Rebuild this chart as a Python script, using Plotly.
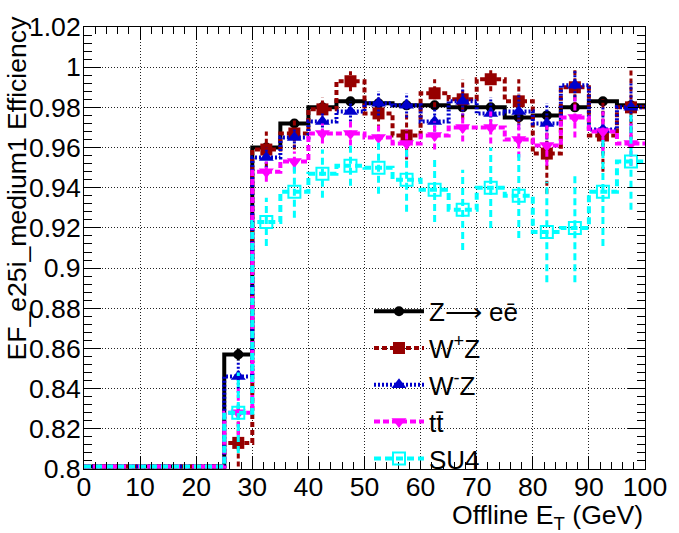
import plotly.graph_objects as go

# ---------------- data ----------------
bin_edges = [0, 5, 10, 15, 20, 25, 30, 35, 40, 45, 50, 55, 60, 65, 70, 75, 80, 85, 90, 95, 100]

series_names = ["Z\u27f6 e\u0113", "W<sup>+</sup>Z", "W<sup>-</sup>Z", "tt\u0304", "SU4"]

eff_zee = [0, 0, 0, 0, 0, 0.857, 0.960, 0.972, 0.980, 0.983, 0.982, 0.981, 0.981, 0.980, 0.980,
           0.975, 0.976, 0.980, 0.983, 0.981]
err_zee = [0, 0, 0, 0, 0, 0.003, 0.002, 0.002, 0.001, 0.001, 0.001, 0.001, 0.001, 0.001, 0.001,
           0.002, 0.002, 0.002, 0.002, 0.002]

eff_wpz = [0, 0, 0, 0, 0, 0.813, 0.959, 0.967, 0.979, 0.993, 0.977, 0.966, 0.987, 0.984, 0.994,
           0.983, 0.957, 0.990, 0.966, 0.980]
err_wpz = [0, 0, 0, 0, 0, 0.020, 0.009, 0.008, 0.006, 0.005, 0.008, 0.012, 0.007, 0.010, 0.006,
           0.011, 0.020, 0.010, 0.018, 0.020]

eff_wmz = [0, 0, 0, 0, 0, 0.846, 0.955, 0.965, 0.973, 0.978, 0.982, 0.981, 0.973, 0.983, 0.977,
           0.978, 0.972, 0.991, 0.969, 0.980]
err_wmz = [0, 0, 0, 0, 0, 0.008, 0.005, 0.005, 0.005, 0.005, 0.006, 0.006, 0.007, 0.007, 0.008,
           0.009, 0.010, 0.008, 0.012, 0.013]

eff_tt = [0, 0, 0, 0, 0, 0.828, 0.948, 0.953, 0.967, 0.967, 0.965, 0.962, 0.966, 0.970, 0.970,
          0.964, 0.961, 0.975, 0.968, 0.962]
err_tt = [0, 0, 0, 0, 0, 0.012, 0.005, 0.005, 0.005, 0.006, 0.006, 0.007, 0.007, 0.007, 0.008,
          0.009, 0.010, 0.010, 0.010, 0.011]

eff_su4 = [0, 0, 0, 0, 0, 0.828, 0.923, 0.938, 0.947, 0.951, 0.950, 0.944, 0.939, 0.929, 0.940,
           0.936, 0.918, 0.920, 0.938, 0.953]
err_su4 = [0, 0, 0, 0, 0, 0.020, 0.012, 0.013, 0.012, 0.010, 0.013, 0.016, 0.016, 0.020, 0.020,
           0.021, 0.025, 0.027, 0.027, 0.024]

x_tick_vals = [0, 10, 20, 30, 40, 50, 60, 70, 80, 90, 100]
x_tick_text = ["0", "10", "20", "30", "40", "50", "60", "70", "80", "90", "100"]
y_tick_vals = [0.80, 0.82, 0.84, 0.86, 0.88, 0.90, 0.92, 0.94, 0.96, 0.98, 1.00, 1.02]
y_tick_text = ["0.8", "0.82", "0.84", "0.86", "0.88", "0.9", "0.92", "0.94", "0.96", "0.98", "1", "1.02"]

# ---------------- style ----------------
YMIN, YMAX = 0.8, 1.02
FLOOR = 0.8012
FONT = "Liberation Sans, Arial, Helvetica, sans-serif"

styles = [
    dict(color="black", dash="solid", width=4, symbol="circle", size=10, mline=0),
    dict(color="#960000", dash="5px,3px", width=4, symbol="square", size=12, mline=0),
    dict(color="#0000cc", dash="2px,2px", width=4, symbol="triangle-up", size=13, mline=0),
    dict(color="#ff00ff", dash="6px,3px", width=4, symbol="triangle-down", size=13, mline=0),
    dict(color="#00ffff", dash="7px,4px", width=4, symbol="square-open", size=12, mline=2),
]
effs = [eff_zee, eff_wpz, eff_wmz, eff_tt, eff_su4]
errs = [err_zee, err_wpz, err_wmz, err_tt, err_su4]

centers = [(bin_edges[i] + bin_edges[i + 1]) / 2 for i in range(len(bin_edges) - 1)]

fig = go.Figure()

for name, eff, err, st in zip(series_names, effs, errs, styles):
    # histogram step line
    ys = [max(v, FLOOR) for v in eff] + [max(eff[-1], FLOOR)]
    fig.add_trace(go.Scatter(
        x=bin_edges, y=ys, mode="lines", line_shape="hv",
        line=dict(color=st["color"], width=st["width"], dash=st["dash"]),
        showlegend=False, hoverinfo="skip"))
    # vertical error bars
    ex, ey = [], []
    for c, v, e in zip(centers, eff, err):
        if v <= 0:
            continue
        ex += [c, c, None]
        ey += [max(v - e, FLOOR), min(v + e, 1.0), None]
    fig.add_trace(go.Scatter(
        x=ex, y=ey, mode="lines",
        line=dict(color=st["color"], width=st["width"] - 1, dash=st["dash"]),
        showlegend=False, hoverinfo="skip"))
    # markers
    mx = [c for c, v in zip(centers, eff) if v > 0]
    my = [v for v in eff if v > 0]
    fig.add_trace(go.Scatter(
        x=mx, y=my, mode="markers",
        marker=dict(color=st["color"], symbol=st["symbol"], size=st["size"],
                    line=dict(color=st["color"], width=st["mline"])),
        showlegend=False))

# legend-only entries
for name, st in zip(series_names, styles):
    fig.add_trace(go.Scatter(
        x=[None], y=[None], mode="lines+markers", name=name,
        line=dict(color=st["color"], width=st["width"], dash=st["dash"]),
        marker=dict(color=st["color"], symbol=st["symbol"], size=st["size"],
                    line=dict(color=st["color"], width=st["mline"]))))

axis_common = dict(
    showline=True, linecolor="black", linewidth=1, mirror="ticks",
    ticks="inside", tickcolor="black", tickwidth=1,
    showgrid=True, gridcolor="#222222", gridwidth=1, griddash="1px,2px",
    zeroline=False, tickfont=dict(family=FONT, size=26.6, color="black"),
)

fig.update_xaxes(
    range=[0, 100], tickmode="array", tickvals=x_tick_vals, ticktext=x_tick_text,
    ticklen=13, ticklabelstandoff=-6,
    minor=dict(tickmode="linear", tick0=0, dtick=2, ticks="inside", ticklen=7,
               tickcolor="black", showgrid=False),
    **axis_common)
fig.update_yaxes(
    range=[YMIN, YMAX], tickmode="array", tickvals=y_tick_vals, ticktext=y_tick_text,
    ticklen=17, ticklabelstandoff=-3,
    minor=dict(tickmode="linear", tick0=0.8, dtick=0.004, ticks="inside", ticklen=8,
               tickcolor="black", showgrid=False),
    **axis_common)

fig.add_annotation(
    text="Offline E<sub>T</sub> (GeV)", xref="paper", yref="paper",
    x=1.0, y=-0.108, xanchor="right", yanchor="middle", showarrow=False,
    font=dict(family=FONT, size=26.6, color="black"))
fig.add_annotation(
    text="EF_e25i_medium1 Efficiency", xref="paper", yref="paper",
    x=-0.119, y=1.03, xanchor="center", yanchor="top", textangle=-90, showarrow=False,
    font=dict(family=FONT, size=26.6, color="black"))

fig.update_layout(
    width=679, height=533,
    margin=dict(l=84, r=30, t=23, b=64),
    paper_bgcolor="white", plot_bgcolor="white",
    showlegend=True,
    legend=dict(x=0.508, y=0.41, xanchor="left", yanchor="top",
                bgcolor="rgba(0,0,0,0)", itemwidth=50,
                font=dict(family=FONT, size=26, color="black"),
                tracegroupgap=0),
)

fig.write_html("out.html")
